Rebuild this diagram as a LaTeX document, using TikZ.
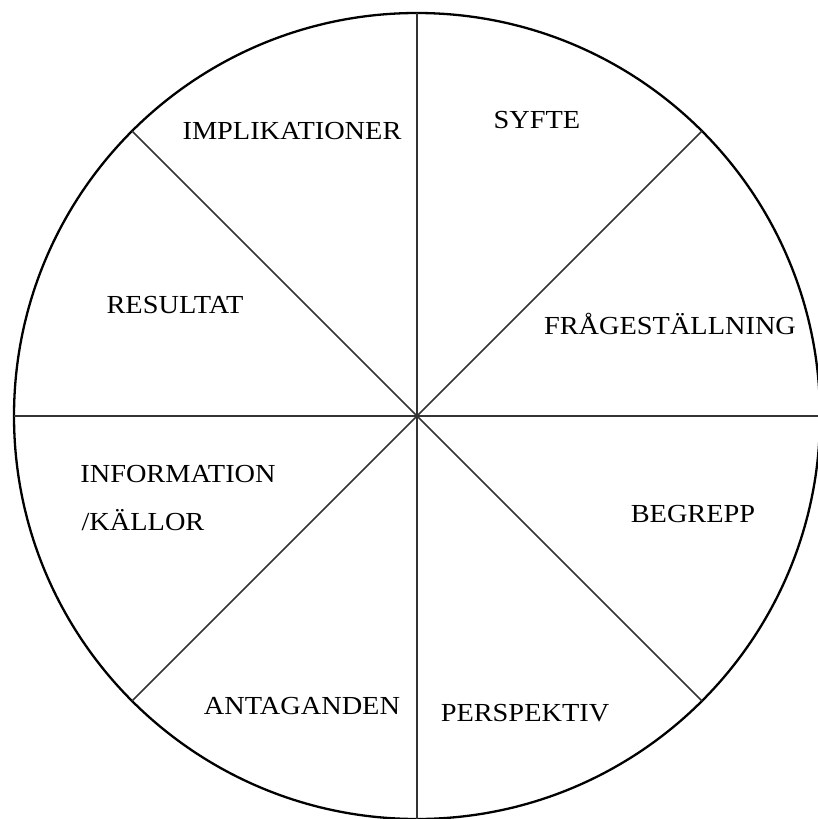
\documentclass[tikz,border=0pt]{standalone}
\usepackage{fontspec}
\setmainfont{Liberation Serif}
\usetikzlibrary{calc}
\begin{document}
\begin{tikzpicture}[x=1pt,y=-1pt,
  rim/.style={line width=2.3pt,draw=black},
  spoke/.style={line width=1.7pt,draw=black!80},
  lbl/.style={anchor=base,inner sep=0pt,font=\fontsize{26}{31}\selectfont,xscale=1.09,text=black}]
\useasboundingbox (0,0) rectangle (818,819);
\coordinate (c) at (417,416);
\foreach \a in {0,45,...,315}{
  \coordinate (p\a) at ($(c)+(\a:403)$);
}
\draw[rim] (c) circle[radius=403pt];
\draw[spoke] (p0) -- (p180);
\draw[spoke] (p90) -- (p270);
\draw[spoke] (p45) -- (p225);
\draw[spoke] (p135) -- (p315);
\node[lbl] (impl) at (292,139) {IMPLIKATIONER};
\node[lbl] (syfte) at (537,128) {SYFTE};
\node[lbl] (frag) at (670,334) {FRÅGESTÄLLNING};
\node[lbl] (res) at (175,313) {RESULTAT};
\node[lbl] (info) at (178,482) {INFORMATION};
\node[lbl] (kall) at (143,530) {/KÄLLOR};
\node[lbl] (begr) at (693,522) {BEGREPP};
\node[lbl] (anta) at (302,714) {ANTAGANDEN};
\node[lbl] (pers) at (525,721) {PERSPEKTIV};
\end{tikzpicture}
\end{document}
